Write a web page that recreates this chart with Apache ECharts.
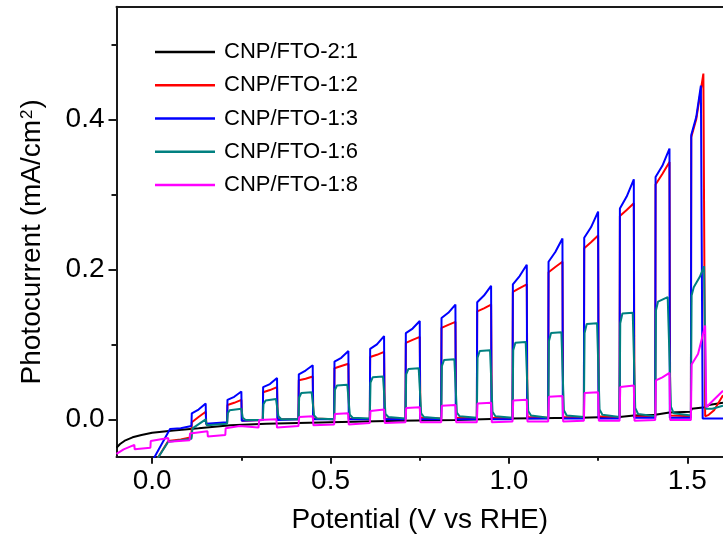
<!DOCTYPE html>
<html><head><meta charset="utf-8">
<script src="https://cdn.jsdelivr.net/npm/echarts@6/dist/echarts.min.js"></script>
<style>html,body{margin:0;padding:0;background:#fff}#c{width:723px;height:540px}</style>
</head><body><div id="c"></div>
<script>
const seriesNames = ['CNP/FTO-2:1', 'CNP/FTO-1:2', 'CNP/FTO-1:3', 'CNP/FTO-1:6', 'CNP/FTO-1:8'];
const seriesColors = ['#000000', '#ff0000', '#0000ff', '#008080', '#ff00ff'];
const xTickLabels = [0, 0.5, 1.0, 1.5];
const xMinorTicks = [0.25, 0.75, 1.25];
const yTickLabels = [0, 0.2, 0.4];
const yMinorTicks = [0.1, 0.3, 0.5];

// [potential (V vs RHE), photocurrent (mA/cm2)]
const cnp21 = [[-0.1,-0.038],[-0.09,-0.033],[-0.075,-0.028],[-0.055,-0.024],[-0.03,-0.021],[0.0,-0.018],[0.06,-0.015],[0.13,-0.012],[0.22,-0.008],[0.32,-0.006],[0.5,-0.004],[0.69,-0.002],[0.85,-0.001],[1.0,0.001],[1.2,0.002],[1.28,0.003],[1.31,0.003],[1.312,0.005],[1.35,0.005],[1.41,0.006],[1.412,0.008],[1.45,0.009],[1.51,0.010],[1.512,0.014],[1.55,0.016],[1.56,0.019],[1.6,0.022]];

const cnp12 = [[0.01,-0.056],[0.045,-0.029],[0.05,-0.030],[0.08,-0.027],[0.11,-0.024],
[0.111,-0.004],[0.13,0.003],[0.15,0.010],[0.152,-0.007],[0.21,-0.005],
[0.211,0.019],[0.23,0.022],[0.25,0.026],[0.252,-0.002],[0.31,-0.001],
[0.311,0.036],[0.33,0.039],[0.35,0.043],[0.352,0.0],[0.41,0.0],
[0.411,0.052],[0.43,0.054],[0.45,0.057],[0.452,0.001],[0.51,0.0],
[0.511,0.068],[0.53,0.071],[0.55,0.074],[0.552,0.001],[0.61,0.0],
[0.611,0.083],[0.63,0.086],[0.65,0.090],[0.652,0.001],[0.71,0.0],
[0.711,0.102],[0.73,0.106],[0.75,0.110],[0.752,0.002],[0.81,0.001],
[0.811,0.122],[0.83,0.126],[0.85,0.130],[0.852,0.002],[0.91,0.001],
[0.911,0.144],[0.93,0.148],[0.95,0.153],[0.952,0.002],[1.01,0.001],
[1.011,0.170],[1.03,0.175],[1.05,0.180],[1.052,0.003],[1.11,0.002],
[1.111,0.196],[1.13,0.203],[1.15,0.210],[1.152,0.003],[1.21,0.002],
[1.211,0.228],[1.23,0.236],[1.25,0.245],[1.252,0.004],[1.31,0.002],
[1.311,0.271],[1.33,0.279],[1.35,0.288],[1.352,0.004],[1.41,0.003],
[1.411,0.313],[1.43,0.327],[1.45,0.343],[1.452,0.005],[1.51,0.004],
[1.511,0.376],[1.525,0.400],[1.545,0.461],[1.55,0.004],[1.56,0.006],[1.575,0.012],[1.59,0.024],[1.6,0.032]];

const cnp13 = [[0.0,-0.056],[0.05,-0.013],[0.053,-0.015],[0.08,-0.012],[0.11,-0.009],
[0.111,0.008],[0.13,0.013],[0.15,0.021],[0.151,-0.006],[0.21,-0.004],
[0.211,0.026],[0.23,0.030],[0.25,0.037],[0.251,-0.002],[0.31,-0.001],
[0.311,0.043],[0.33,0.047],[0.35,0.055],[0.351,-0.001],[0.41,0.0],
[0.411,0.060],[0.43,0.065],[0.45,0.072],[0.451,0.0],[0.51,0.0],
[0.511,0.077],[0.53,0.082],[0.55,0.091],[0.551,0.0],[0.61,0.0],
[0.611,0.094],[0.63,0.100],[0.65,0.111],[0.651,0.0],[0.71,0.0],
[0.711,0.115],[0.73,0.121],[0.75,0.131],[0.751,0.0],[0.81,0.0],
[0.811,0.135],[0.83,0.142],[0.85,0.153],[0.851,0.0],[0.91,0.0],
[0.911,0.156],[0.93,0.165],[0.95,0.178],[0.951,0.0],[1.01,0.0],
[1.011,0.180],[1.03,0.191],[1.05,0.206],[1.051,0.001],[1.11,0.001],
[1.111,0.210],[1.13,0.223],[1.15,0.241],[1.151,0.001],[1.21,0.001],
[1.211,0.242],[1.23,0.256],[1.25,0.277],[1.251,0.001],[1.31,0.001],
[1.311,0.281],[1.33,0.297],[1.35,0.320],[1.351,0.002],[1.41,0.002],
[1.411,0.323],[1.43,0.338],[1.45,0.361],[1.451,0.002],[1.51,0.002],
[1.511,0.379],[1.525,0.403],[1.538,0.445],[1.543,0.001],[1.6,0.001]];

const cnp16 = [[0.01,-0.056],[0.045,-0.030],[0.05,-0.031],[0.08,-0.028],[0.11,-0.026],
[0.113,-0.012],[0.15,0.0],[0.153,-0.008],[0.21,-0.006],
[0.212,0.008],[0.217,0.012],[0.25,0.014],[0.254,0.002],[0.262,-0.001],[0.31,-0.001],
[0.312,0.020],[0.318,0.025],[0.347,0.027],[0.354,0.004],[0.362,0.0],[0.41,0.0],
[0.412,0.029],[0.418,0.035],[0.447,0.036],[0.454,0.005],[0.462,0.001],[0.51,0.0],
[0.512,0.039],[0.518,0.045],[0.547,0.046],[0.554,0.006],[0.562,0.002],[0.61,0.001],
[0.612,0.049],[0.618,0.056],[0.647,0.057],[0.654,0.007],[0.662,0.003],[0.71,0.001],
[0.712,0.060],[0.718,0.067],[0.747,0.068],[0.754,0.008],[0.762,0.003],[0.81,0.001],
[0.812,0.071],[0.818,0.079],[0.847,0.080],[0.854,0.009],[0.862,0.004],[0.91,0.002],
[0.912,0.082],[0.918,0.091],[0.947,0.092],[0.954,0.010],[0.962,0.004],[1.01,0.002],
[1.012,0.092],[1.018,0.102],[1.047,0.103],[1.054,0.011],[1.062,0.005],[1.11,0.002],
[1.112,0.104],[1.118,0.115],[1.147,0.116],[1.154,0.012],[1.162,0.005],[1.21,0.003],
[1.212,0.115],[1.218,0.127],[1.247,0.128],[1.254,0.013],[1.262,0.006],[1.31,0.003],
[1.312,0.128],[1.318,0.141],[1.347,0.142],[1.354,0.015],[1.362,0.007],[1.41,0.004],
[1.412,0.145],[1.418,0.157],[1.445,0.163],[1.454,0.017],[1.462,0.008],[1.51,0.005],
[1.512,0.165],[1.518,0.176],[1.535,0.190],[1.547,0.204],[1.552,0.014],[1.57,0.014],[1.6,0.018]];

const cnp18 = [[-0.1,-0.046],[-0.08,-0.040],[-0.05,-0.034],[-0.049,-0.040],[-0.005,-0.038],[-0.004,-0.029],[0.045,-0.025],[0.046,-0.030],[0.105,-0.028],[0.106,-0.019],[0.155,-0.016],[0.156,-0.023],[0.205,-0.021],[0.206,-0.012],[0.245,-0.009],[0.246,-0.011],[0.298,-0.011],[0.3,-0.001],[0.348,0.0],[0.35,-0.011],[0.41,-0.009],[0.412,0.003],[0.45,0.004],[0.452,-0.008],[0.51,-0.007],[0.512,0.007],[0.549,0.008],[0.551,-0.007],[0.61,-0.005],[0.612,0.011],[0.65,0.013],[0.652,-0.005],[0.71,-0.004],[0.712,0.015],[0.75,0.016],[0.752,-0.004],[0.81,-0.004],[0.812,0.018],[0.85,0.019],[0.852,-0.004],[0.91,-0.004],[0.912,0.021],[0.95,0.022],[0.952,-0.004],[1.01,-0.003],[1.012,0.025],[1.05,0.026],[1.052,-0.003],[1.11,-0.003],[1.112,0.030],[1.15,0.031],[1.152,-0.003],[1.21,-0.002],[1.212,0.035],[1.25,0.036],[1.252,-0.002],[1.31,-0.002],[1.312,0.043],[1.35,0.045],[1.352,-0.002],[1.41,-0.001],[1.412,0.052],[1.43,0.056],[1.45,0.062],[1.452,-0.001],[1.51,-0.001],[1.512,0.073],[1.53,0.087],[1.55,0.125],[1.553,0.016],[1.57,0.024],[1.6,0.038]];

const seriesData = [cnp21, cnp12, cnp13, cnp16, cnp18];

const FONT = 'Liberation Sans, Arial, sans-serif';
const AX = '#1a1a1a';
const chart = echarts.init(document.getElementById('c'), null, {renderer: 'canvas'});
chart.setOption({
  animation: false,
  backgroundColor: '#ffffff',
  grid: {left: 116.5, right: -5, top: 6.8, bottom: 83.2, containLabel: false},
  legend: {
    orient: 'vertical', left: 155, top: 41, padding: 0, itemWidth: 60, itemHeight: 2.5, itemGap: 11.25,
    icon: 'rect', data: seriesNames,
    textStyle: {fontFamily: FONT, fontSize: 22, color: '#000', lineHeight: 22, padding: [0, 0, 0, 4]}
  },
  xAxis: [
    {type: 'value', min: -0.1, max: 1.6, position: 'bottom',
     name: 'Potential (V vs RHE)', nameLocation: 'middle', nameGap: 49,
     nameTextStyle: {fontFamily: FONT, fontSize: 28, color: '#000'},
     axisLine: {show: true, onZero: false, lineStyle: {color: AX, width: 2}},
     axisTick: {show: true, inside: false, length: 7, customValues: xTickLabels, lineStyle: {color: AX, width: 2}},
     axisLabel: {show: true, margin: 10, customValues: xTickLabels, formatter: v => v.toFixed(1),
       fontFamily: FONT, fontSize: 28, color: '#000'},
     splitLine: {show: false}},
    {type: 'value', min: -0.1, max: 1.6, position: 'bottom',
     axisLine: {show: false, onZero: false}, axisLabel: {show: false}, splitLine: {show: false},
     axisTick: {show: true, inside: false, length: 4, customValues: xMinorTicks, lineStyle: {color: AX, width: 2}}},
    {type: 'value', min: -0.1, max: 1.6, position: 'top',
     axisLine: {show: true, onZero: false, lineStyle: {color: AX, width: 2}},
     axisTick: {show: false}, axisLabel: {show: false}, splitLine: {show: false}}
  ],
  yAxis: [
    {type: 'value', min: -0.05, max: 0.55, position: 'left',
     name: '{t|Photocurrent (mA/cm}{s|2}{t|)}', nameLocation: 'middle', nameGap: 70, nameRotate: 90,
     nameTextStyle: {fontFamily: FONT, fontSize: 28, color: '#000', padding: [0, 20, 0, 0],
       rich: {t: {fontFamily: FONT, fontSize: 28, color: '#000'},
              s: {fontFamily: FONT, fontSize: 17, color: '#000', verticalAlign: 'top', padding: [0, 1, 0, 1]}}},
     axisLine: {show: true, onZero: false, lineStyle: {color: AX, width: 2}},
     axisTick: {show: true, inside: false, length: 8, customValues: yTickLabels, lineStyle: {color: AX, width: 2}},
     axisLabel: {show: true, margin: 12, customValues: yTickLabels, formatter: v => v.toFixed(1),
       fontFamily: FONT, fontSize: 28, color: '#000'},
     splitLine: {show: false}},
    {type: 'value', min: -0.05, max: 0.55, position: 'left',
     axisLine: {show: false, onZero: false}, axisLabel: {show: false}, splitLine: {show: false},
     axisTick: {show: true, inside: false, length: 5, customValues: yMinorTicks, lineStyle: {color: AX, width: 2}}}
  ],
  series: seriesNames.map((n, i) => ({
    name: n, type: 'line', xAxisIndex: 0, yAxisIndex: 0,
    data: seriesData[i], showSymbol: false, symbol: 'none', clip: true, silent: true,
    color: seriesColors[i],
    lineStyle: {color: seriesColors[i], width: 2},
    z: 2 + i
  }))
});
</script>
</body></html>
